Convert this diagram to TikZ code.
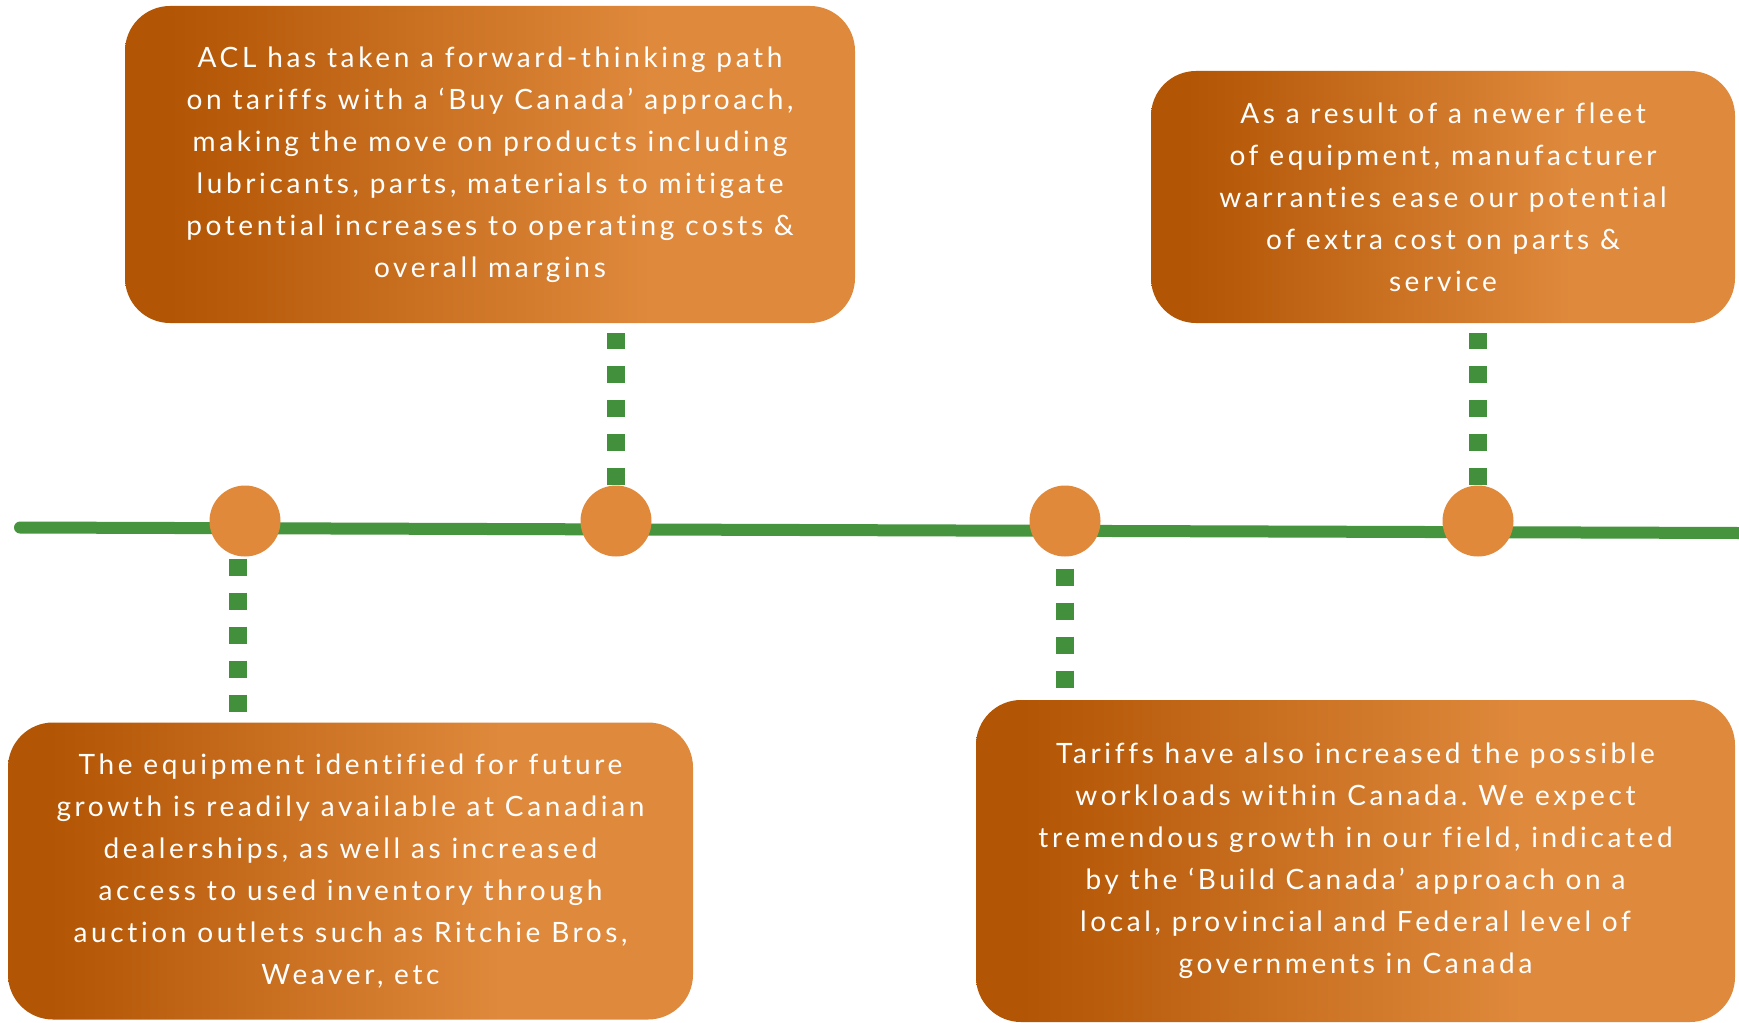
\documentclass[tikz,border=0pt]{standalone}
\usepackage{fontspec}
\setmainfont{Lato}[LetterSpace=13, Ligatures={CommonOff}]
\usetikzlibrary{calc}
\definecolor{dorange}{RGB}{178,85,4}
\definecolor{lorange}{RGB}{223,137,60}
\definecolor{dotorange}{RGB}{224,137,59}
\definecolor{tlgreen}{RGB}{70,148,62}
\definecolor{dotgreen}{RGB}{66,143,60}
\pgfdeclarehorizontalshading{boxshade}{100bp}{color(0bp)=(dorange); color(25bp)=(dorange); color(28bp)=(dorange); color(61bp)=(lorange); color(75bp)=(lorange); color(100bp)=(lorange)}
\tikzset{
  infobox/.style={rounded corners=45pt, shade, shading=boxshade, text=white, align=center,
    font=\fontsize{28}{42}\selectfont, inner sep=0pt},
  milestone/.style={circle, fill=dotorange, minimum size=71pt, inner sep=0pt},
  dotline/.style={draw=dotgreen, line width=18pt, line cap=butt, dash pattern=on 17pt off 17pt},
  timeline/.style={draw=tlgreen, line width=12pt, line cap=round}
}
\frenchspacing
\begin{document}
\begin{tikzpicture}[x=1pt,y=-1pt]
\useasboundingbox (0,0) rectangle (1739,1022);
\fill[white] (0,0) rectangle (1739,1022);
% timeline
\coordinate (tlstart) at (20,527.5);
\coordinate (tlend) at (1739,533);
\draw[timeline] (tlstart) -- (tlend);
% milestones
\node[milestone] (c1) at (245,521) {};
\node[milestone] (c2) at (616,521) {};
\node[milestone] (c3) at (1065,521) {};
\node[milestone] (c4) at (1478,521) {};
% boxes
\node[infobox, minimum width=730pt, minimum height=317pt] (b1) at (490,164.5)
 {ACL has taken a forward-thinking path\\
  on tariffs with a ‘Buy Canada’ approach,\\
  making the move on products including\\
  lubricants, parts, materials to mitigate\\
  potential increases to operating costs \&\\
  overall margins};
\node[infobox, minimum width=584pt, minimum height=252pt] (b2) at (1443,197)
 {As a result of a newer fleet\\
  of equipment, manufacturer\\
  warranties ease our potential\\
  of extra cost on parts \&\\
  service};
\node[infobox, minimum width=685pt, minimum height=297pt] (b3) at (350.5,871)
 {The equipment identified for future\\
  growth is readily available at Canadian\\
  dealerships, as well as increased\\
  access to used inventory through\\
  auction outlets such as Ritchie Bros,\\
  Weaver, etc};
\node[infobox, minimum width=759pt, minimum height=322pt] (b4) at (1355.5,861)
 {Tariffs have also increased the possible\\
  workloads within Canada. We expect\\
  tremendous growth in our field, indicated\\
  by the ‘Build Canada’ approach on a\\
  local, provincial and Federal level of\\
  governments in Canada};
% connectors
\coordinate (k1) at ([xshift=-7pt]c1.south);
\draw[dotline, shorten <=2pt, shorten >=9pt] (k1) -- (k1 |- b3.north);
\draw[dotline, shorten >=10pt] (c2.north) -- (c2.north |- b1.south);
\draw[dotline, shorten <=12pt, shorten >=12pt] (c3.south) -- (c3.south |- b4.north);
\draw[dotline, shorten >=10pt] (c4.north) -- (c4.north |- b2.south);
\end{tikzpicture}
\end{document}
